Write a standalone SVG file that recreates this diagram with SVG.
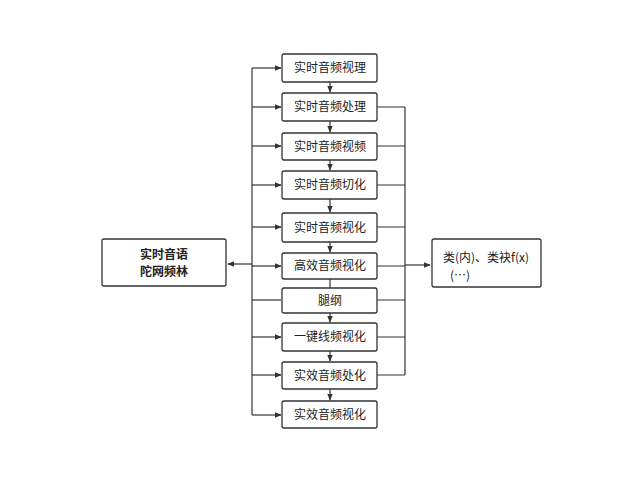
<svg xmlns="http://www.w3.org/2000/svg" width="640" height="480" viewBox="0 0 640 480">
<defs>
<style>
.b{fill:#fff;stroke:#333;stroke-width:1.3}
.t{font-family:"Noto Sans CJK SC","Liberation Sans",sans-serif;font-size:12px;fill:#222;text-anchor:middle}
.c{fill:none;stroke:#333;stroke-width:1.2}
</style>
<marker id="a" viewBox="0 0 10 10" refX="9" refY="5" markerWidth="6" markerHeight="6" orient="auto"><path d="M0,1 L10,5 L0,9 z" fill="#333"/></marker>
</defs>
<rect width="640" height="480" fill="#fff"/>
<g id="connectors">
<path class="c" d="M252,68 V415"/>
<path class="c" d="M405,107 V375"/>
<path class="c" d="M252,264 H228" marker-end="url(#a)"/>
<path class="c" d="M405,265 H430" marker-end="url(#a)"/>
<path class="c" d="M252,68 H281" marker-end="url(#a)"/>
<path class="c" d="M252,107 H281" marker-end="url(#a)"/>
<path class="c" d="M252,146 H281" marker-end="url(#a)"/>
<path class="c" d="M252,185 H281" marker-end="url(#a)"/>
<path class="c" d="M252,227 H281" marker-end="url(#a)"/>
<path class="c" d="M252,266 H281" marker-end="url(#a)"/>
<path class="c" d="M252,300 H281"/>
<path class="c" d="M252,337 H281" marker-end="url(#a)"/>
<path class="c" d="M252,375 H281" marker-end="url(#a)"/>
<path class="c" d="M252,415 H281" marker-end="url(#a)"/>
<path class="c" d="M377,107 H405 M377,146 H405 M377,185 H405 M377,227 H405 M377,266 H405 M377,300 H405 M377,337 H405 M377,375 H405"/>
<path class="c" d="M330,82 V92" marker-end="url(#a)"/>
<path class="c" d="M330,121 V132" marker-end="url(#a)"/>
<path class="c" d="M330,160 V170" marker-end="url(#a)"/>
<path class="c" d="M330,199 V212" marker-end="url(#a)"/>
<path class="c" d="M330,242 V252" marker-end="url(#a)"/>
<path class="c" d="M330,279 V288"/>
<path class="c" d="M330,313 V322" marker-end="url(#a)"/>
<path class="c" d="M330,351 V361" marker-end="url(#a)"/>
<path class="c" d="M330,389 V400" marker-end="url(#a)"/>
</g>
<g id="left"><rect class="b" x="102" y="239" width="124" height="47" rx="2"/><text class="t" x="164" y="259" font-weight="bold">实时音语</text><text class="t" x="164" y="276" font-weight="bold">陀网频林</text></g>
<g id="right"><rect class="b" x="432" y="239" width="109" height="48" rx="2"/><text class="t" x="486" y="262" font-size="11">类(内)、类袂f(x)</text><text class="t" x="460" y="280" font-size="7" fill="#888">(…)</text></g>
<g id="n1"><rect class="b" x="282" y="54" width="95" height="28" rx="2"/><text class="t" x="330" y="72">实时音频视理</text></g>
<g id="n2"><rect class="b" x="282" y="93" width="95" height="28" rx="2"/><text class="t" x="330" y="111">实时音频处理</text></g>
<g id="n3"><rect class="b" x="282" y="133" width="95" height="27" rx="2"/><text class="t" x="330" y="151">实时音频视频</text></g>
<g id="n4"><rect class="b" x="282" y="171" width="95" height="28" rx="2"/><text class="t" x="330" y="189">实时音频切化</text></g>
<g id="n5"><rect class="b" x="282" y="213" width="95" height="29" rx="2"/><text class="t" x="330" y="232">实时音频视化</text></g>
<g id="n6"><rect class="b" x="282" y="253" width="95" height="26" rx="2"/><text class="t" x="330" y="270">高效音频视化</text></g>
<g id="n7"><rect class="b" x="282" y="288" width="95" height="25" rx="2"/><text class="t" x="330" y="305">腿纲</text></g>
<g id="n8"><rect class="b" x="282" y="323" width="95" height="28" rx="2"/><text class="t" x="330" y="341">一键线频视化</text></g>
<g id="n9"><rect class="b" x="282" y="362" width="95" height="27" rx="2"/><text class="t" x="330" y="380">实效音频处化</text></g>
<g id="n10"><rect class="b" x="282" y="401" width="95" height="27" rx="2"/><text class="t" x="330" y="419">实效音频视化</text></g>
</svg>
